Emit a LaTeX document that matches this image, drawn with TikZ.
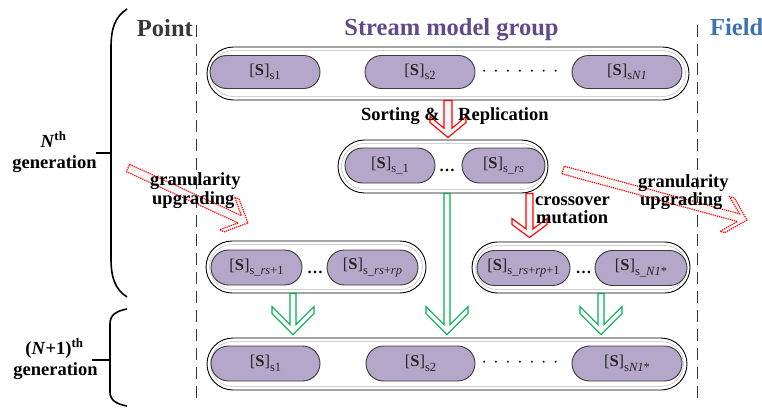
\documentclass[tikz,border=0pt]{standalone}
\usepackage{fontspec}
\setmainfont{Liberation Serif}
\usetikzlibrary{calc,shapes.misc}

\definecolor{pillfill}{HTML}{B4A7C9}
\definecolor{pillline}{HTML}{3A3A3A}
\definecolor{groupcol}{HTML}{5F4B8B}
\definecolor{fieldcol}{HTML}{3B74AA}
\definecolor{pointcol}{HTML}{383838}
\definecolor{arrred}{HTML}{FF0000}
\definecolor{arrgreen}{HTML}{00B050}

% stream model label: [S] with a lowered subscript
\newcommand\sv[1]{[\textbf{S}]\raisebox{-0.28em}{\fontsize{12.5}{12.5}\selectfont #1}}

% hollow chevron-headed arrow from #2 to tip #3
% #4 shaft half width, #5 head half width, #6 back distance of the arm caps,
% #7 back distance of the head corners, #8 back distance of the inner notch
\newcommand\chevarrow[8]{%
  \draw[#1]
    ($(#2)!#4pt!-90:(#3)$)
    -- ($(#3)!#8pt!(#2)!#4pt!90:(#2)$)
    -- ($(#3)!#6pt!(#2)!#5pt!90:(#2)$)
    -- ($(#3)!#7pt!(#2)!#5pt!90:(#2)$)
    -- (#3)
    -- ($(#3)!#7pt!(#2)!#5pt!-90:(#2)$)
    -- ($(#3)!#6pt!(#2)!#5pt!-90:(#2)$)
    -- ($(#3)!#8pt!(#2)!#4pt!-90:(#2)$)
    -- ($(#2)!#4pt!90:(#3)$) -- cycle;}

\newcommand\sevendots{·\hspace{6.6pt}·\hspace{6.6pt}·\hspace{6.6pt}·\hspace{6.6pt}·\hspace{6.6pt}·\hspace{6.6pt}·}

\tikzset{
  pill/.style={shape=rounded rectangle, draw=pillline, line width=0.9pt,
    fill=pillfill, minimum height=35pt, inner sep=0pt,
    font=\fontsize{16.5}{18}\selectfont, text=black!85},
  group/.style={shape=rounded rectangle, draw=black, line width=0.9pt,
    fill=white, inner sep=0pt},
  ring/.style={shape=rounded rectangle, draw=gray!55, line width=0.5pt,
    inner sep=0pt},
  lbl/.style={font=\fontsize{18.5}{19}\selectfont\bfseries, inner sep=0pt},
  title/.style={font=\fontsize{24.5}{26}\selectfont\bfseries, inner sep=0pt},
  dotrow/.style={font=\fontsize{16}{16}\selectfont, inner sep=0pt, anchor=base},
  ell/.style={font=\fontsize{16}{16}\selectfont\bfseries, inner sep=0pt, anchor=base},
  sep/.style={draw=black!80, line width=1.2pt, dash pattern=on 12pt off 7pt},
  brace/.style={draw=black, line width=1.6pt},
  garrow/.style={draw=arrgreen, line width=1.1pt, fill=white, line join=miter},
  rarrow/.style={draw=arrred, line width=1.1pt, fill=gray!6, line join=miter},
  darrow/.style={draw=arrred, line width=1.2pt, densely dotted, fill=gray!7},
}

\begin{document}
\begin{tikzpicture}[x=1pt, y=-1pt]
\useasboundingbox (0,0) rectangle (762,407);

% separators between point, group and field
\draw[sep] (196.5,25) -- (196.5,400);
\draw[sep] (697.5,25) -- (697.5,400);

% column titles
\node[title, text=pointcol, anchor=base east] (tpoint) at (193,36) {Point};
\node[title, text=groupcol, anchor=base] (tgroup) at (451.5,35) {Stream model group};
\node[title, text=fieldcol, anchor=base west] (tfield) at (710,35) {Field};

% generation braces
\draw[brace] (127,9) .. controls (115,17) and (111,28) .. (111,48) -- (111,258)
  .. controls (111,278) and (115,289) .. (127,297);
\draw[brace] (111,153) -- (96,153);
\draw[brace] (127,309) .. controls (116,311) and (110,315) .. (110,324) -- (110,392)
  .. controls (110,400) and (116,404) .. (127,406);
\draw[brace] (110,360) -- (92,360);

\node[lbl, anchor=base] (gen1a) at (53.5,147) {\textit{N}\textsuperscript{th}};
\node[lbl, anchor=base] (gen1b) at (54.5,168) {generation};
\node[lbl, anchor=base] (gen2a) at (54.5,354) {(\textit{N}+1)\textsuperscript{th}};
\node[lbl, anchor=base] (gen2b) at (55.5,375) {generation};

% current generation
\node[group, minimum width=482pt, minimum height=53pt] (top) at (448,73.5) {};
\node[ring, minimum width=475pt, minimum height=46pt] (top-ring) at (top) {};
\node[pill, minimum width=110pt, minimum height=33pt] (t1) at (265,72) {\sv{s1}};
\node[pill, minimum width=110pt, minimum height=33pt] (t2) at (420,72) {\sv{s2}};
\node[dotrow] (tdots) at (520,76.5) {\sevendots};
\node[pill, minimum width=110pt, minimum height=33pt] (t3) at (627,72) {\sv{s\textit{N1}}};

% sorted and replicated models
\node[group, minimum width=210pt, minimum height=53pt] (mid) at (443,166.5) {};
\node[ring, minimum width=203pt, minimum height=46pt] (mid-ring) at (mid) {};
\node[pill, minimum width=90pt] (m1) at (390,165.5) {\sv{s\_1}};
\node[ell] (mdots) at (447,171) {…};
\node[pill, minimum width=83pt] (m2) at (503.5,165.5) {\sv{s\_\textit{rs}}};

% upgraded models
\node[group, minimum width=220pt, minimum height=52pt] (left) at (316,267) {};
\node[ring, minimum width=213pt, minimum height=45pt] (left-ring) at (left) {};
\node[pill, minimum width=91pt] (l1) at (256.5,267.5) {\sv{s\_\textit{rs}+1}};
\node[ell] (ldots) at (315,273.5) {…};
\node[pill, minimum width=91pt] (l2) at (372.5,267.5) {\sv{s\_\textit{rs}+\textit{rp}}};

% crossed and mutated models
\node[group, minimum width=218pt, minimum height=51pt] (right) at (581,267.5) {};
\node[ring, minimum width=211pt, minimum height=44pt] (right-ring) at (right) {};
\node[pill, minimum width=93pt] (r1) at (523.5,268) {\sv{s\_\textit{rs}+\textit{rp}+1}};
\node[ell] (rdots) at (583.5,273.5) {…};
\node[pill, minimum width=92pt] (r2) at (641,268) {\sv{s\_\textit{N1}*}};

% next generation
\node[group, minimum width=480pt, minimum height=52pt] (bot) at (447,364) {};
\node[ring, minimum width=473pt, minimum height=45pt] (bot-ring) at (bot) {};
\node[pill, minimum width=109pt] (b1) at (265.5,363.5) {\sv{s1}};
\node[pill, minimum width=109pt] (b2) at (420.5,363.5) {\sv{s2}};
\node[dotrow] (bdots) at (520,367.5) {\sevendots};
\node[pill, minimum width=110pt] (b3) at (627,363.5) {\sv{s\textit{N1}*}};

% arrow end points
\coordinate (sr-s) at (top.south);
\coordinate (sr-t) at ($(top.south |- mid.north)+(0,-2)$);
\coordinate (cm-s) at ($(mid.south)+(86.5,0)$);
\coordinate (cm-t) at ($(cm-s |- right.north)+(0,-4)$);
\coordinate (g1-s) at ($(left.south)+(-23,0)$);
\coordinate (g1-t) at ($(g1-s |- bot.north)+(0,-3)$);
\coordinate (g2-s) at ($(mid.south)+(4,0)$);
\coordinate (g2-t) at ($(g2-s |- bot.north)+(0,-3)$);
\coordinate (g3-s) at ($(right.south)+(20,0)$);
\coordinate (g3-t) at ($(g3-s |- bot.north)+(0,-3)$);
\coordinate (gl-s) at (128,168);
\coordinate (gl-t) at (248,223);
\coordinate (gr-s) at (563,170);
\coordinate (gr-t) at (747,220);

% operators
\chevarrow{rarrow}{sr-s}{sr-t}{4}{18}{21}{15}{9.3}
\chevarrow{rarrow}{cm-s}{cm-t}{3.5}{17.5}{19}{13}{8.6}
\chevarrow{garrow}{g1-s}{g1-t}{3}{21}{28}{21}{10}
\chevarrow{garrow}{g2-s}{g2-t}{3}{21}{28}{21}{10}
\chevarrow{garrow}{g3-s}{g3-t}{3}{21}{28}{21}{10}
\chevarrow{darrow}{gl-s}{gl-t}{4}{18}{23}{18}{9}
\chevarrow{darrow}{gr-s}{gr-t}{4}{18}{23}{18}{9}

% operator labels
\node[lbl, anchor=base east] (sort) at (440,120) {Sorting \&};
\node[lbl, anchor=base west] (repl) at (458,120) {Replication};
\node[lbl, anchor=base west] (cross) at (535,205) {crossover};
\node[lbl, anchor=base west] (mut) at (536,223.5) {mutation};
\node[lbl, anchor=base west] (gla) at (150,185) {granularity};
\node[lbl, anchor=base west] (glb) at (152,204) {upgrading};
\node[lbl, anchor=base west] (gra) at (638,187) {granularity};
\node[lbl, anchor=base west] (grb) at (640,205) {upgrading};
\end{tikzpicture}
\end{document}
